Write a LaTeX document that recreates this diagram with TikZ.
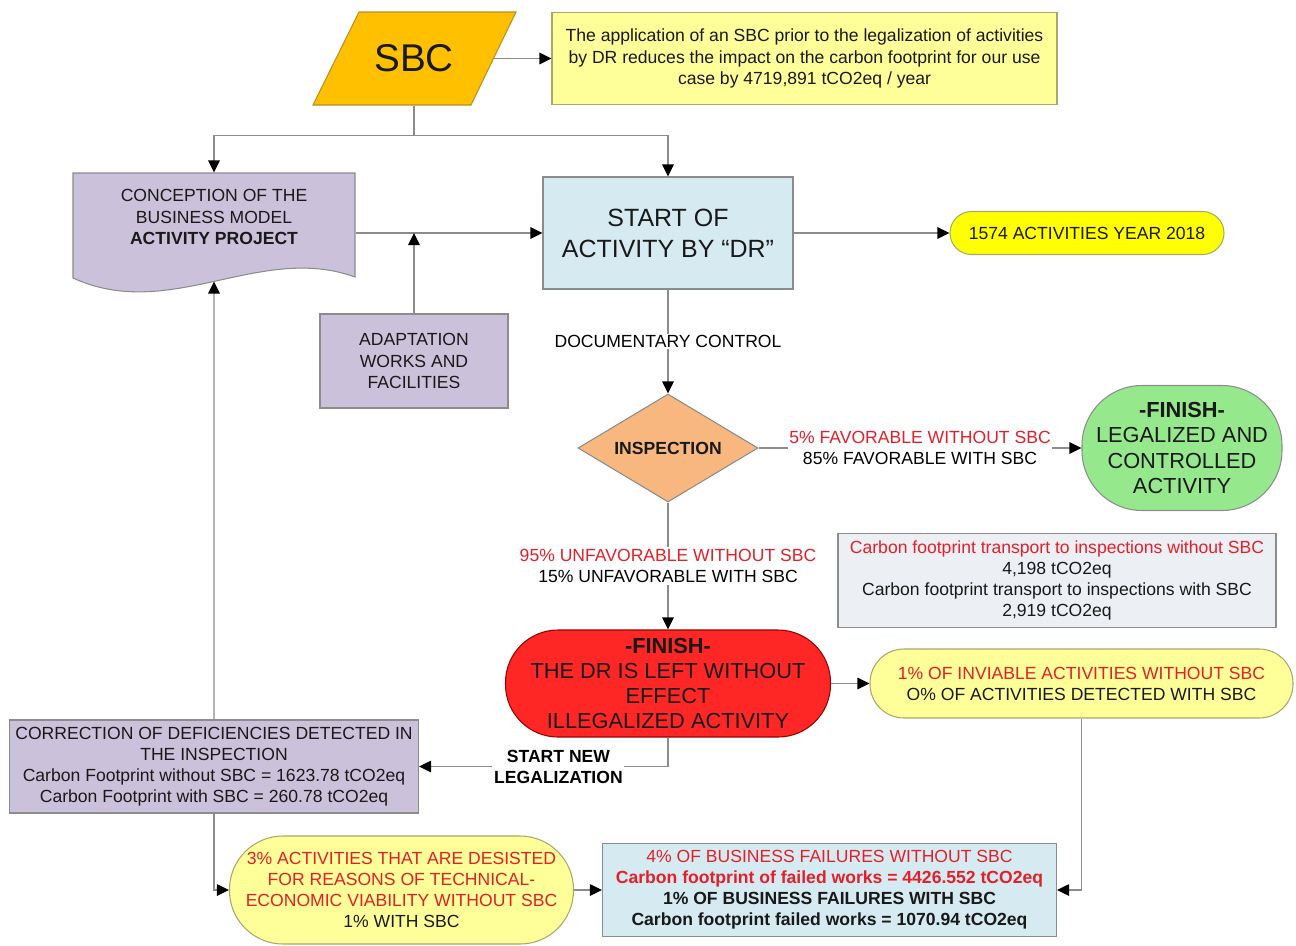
\documentclass[tikz,border=0pt]{standalone}
\usepackage{fontspec}
\setmainfont{Liberation Sans}
\usetikzlibrary{arrows.meta, shapes.geometric}
\definecolor{cSbc}{HTML}{FFC000}
\definecolor{cSbcDark}{HTML}{B8902A}
\definecolor{cNote}{HTML}{FFFF99}
\definecolor{cNoteDark}{HTML}{A8A86A}
\definecolor{cLav}{HTML}{CCC1DA}
\definecolor{cBlue}{HTML}{D6EBF1}
\definecolor{cYel}{HTML}{FFFF00}
\definecolor{cInsp}{HTML}{F8B77E}
\definecolor{cGreen}{HTML}{95E88C}
\definecolor{cGray}{HTML}{ECEFF4}
\definecolor{cRed}{HTML}{FF2626}
\definecolor{cTxtRed}{HTML}{E3202A}
\definecolor{cLine}{HTML}{8C8C8C}
\tikzstyle{fBase} = [text centered, align=center, line width=0.6pt, inner sep=2pt, text=black!90]
\tikzstyle{fProcess} = [rectangle, fBase, draw=cLine, fill=cLav]
\tikzstyle{fStart} = [rectangle, fBase, draw=cLine, fill=cBlue, minimum width=5cm, minimum height=2.24cm, font=\fontsize{14.2}{17.6}\selectfont]
\tikzstyle{fNote} = [rectangle, fBase, draw=cNoteDark, fill=cNote]
\tikzstyle{fData} = [rectangle, fBase, minimum width=3.18cm, minimum height=1.86cm, font=\fontsize{22}{26}\selectfont]
\tikzstyle{fDecision} = [diamond, fBase, aspect=1.67, inner sep=0pt, minimum width=3.6cm, minimum height=2.16cm, draw=cLine, fill=cInsp, font=\bfseries]
\tikzstyle{fTerminal} = [rectangle, fBase, draw=cNoteDark, fill=cNote]
\tikzstyle{fArrow} = [line width=0.6pt, draw=cLine, -{Triangle[length=2.4mm, width=2.3mm, color=black]}]
\tikzstyle{fLine} = [line width=0.6pt, draw=cLine]
\tikzstyle{fLabel} = [fill=white, align=center, inner sep=1pt]

\begin{document}
\begin{tikzpicture}[node distance=2cm]
    \useasboundingbox (0,0) rectangle (25.92,-18.90);
    % shapes without a node style
    \draw [fLine, fill=cLav] (1.46,-3.46) -- (7.10,-3.46) -- (7.10,-5.54) .. controls (5.2,-4.85) and (3.4,-6.45) .. (1.46,-5.56) -- cycle;
    \draw [line width=0.6pt, draw=cSbcDark, fill=cSbc] (6.26,-2.10) -- (7.18,-0.24) -- (10.32,-0.24) -- (9.42,-2.10) -- cycle;

    \node (start) [fStart] at (13.36,-4.66) {START OF\\ACTIVITY BY “DR”};
    \node (sbc) [fData, above of=start, xshift=-5.08cm, yshift=1.49cm] {SBC};
    \node (note) [fNote, right of=sbc, xshift=5.81cm, minimum width=10.1cm, minimum height=1.84cm] {The application of an SBC prior to the legalization of activities\\by DR reduces the impact on the carbon footprint for our use\\case by 4719,891 tCO2eq / year};
    \node (conc) [rectangle, fBase, left of=start, xshift=-7.08cm, yshift=0.32cm, minimum width=5.64cm, minimum height=1.76cm] {CONCEPTION OF THE\\BUSINESS MODEL\\\textbf{ACTIVITY PROJECT}};
    \coordinate (concb) at (4.28,-5.63);
    \node (act) [fTerminal, right of=start, xshift=6.38cm, minimum width=5.48cm, minimum height=0.86cm, rounded corners=0.43cm, fill=cYel] {1574 ACTIVITIES YEAR 2018};
    \node (adapt) [fProcess, below of=sbc, yshift=-4.05cm, minimum width=3.76cm, minimum height=1.88cm] {ADAPTATION\\WORKS AND\\FACILITIES};
    \node (insp) [fDecision, below of=start, yshift=-2.30cm] {INSPECTION};
    \node (green) [fTerminal, right of=insp, xshift=8.28cm, minimum width=4cm, minimum height=2.5cm, rounded corners=1.2cm, fill=cGreen, draw=cLine, font=\fontsize{12.4}{14.4}\selectfont] {\textbf{-FINISH-}\\LEGALIZED AND\\CONTROLLED\\ACTIVITY};
    \node (gray) [rectangle, fBase, below of=green, xshift=-2.50cm, yshift=-0.65cm, minimum width=8.76cm, minimum height=1.88cm, draw=cLine, fill=cGray] {{\color{cTxtRed}Carbon footprint transport to inspections without SBC}\\4,198 tCO2eq\\Carbon footprint transport to inspections with SBC\\2,919 tCO2eq};
    \node (red) [fTerminal, below of=insp, yshift=-2.71cm, minimum width=6.5cm, minimum height=2.14cm, rounded corners=1.05cm, fill=cRed, draw=red!60!black, font=\fontsize{12.4}{14.4}\selectfont] {\textbf{-FINISH-}\\THE DR IS LEFT WITHOUT\\EFFECT\\ILLEGALIZED ACTIVITY};
    \node (inv) [fTerminal, right of=red, xshift=6.27cm, minimum width=8.46cm, minimum height=1.38cm, rounded corners=0.68cm] {{\color{cTxtRed}1\% OF INVIABLE ACTIVITIES WITHOUT SBC}\\O\% OF ACTIVITIES DETECTED WITH SBC};
    \node (corr) [fProcess, below of=conc, yshift=-8.99cm, minimum width=8.18cm, minimum height=1.86cm] {CORRECTION OF DEFICIENCIES DETECTED IN\\THE INSPECTION\\Carbon Footprint without SBC = 1623.78 tCO2eq\\Carbon Footprint with SBC = 260.78 tCO2eq};
    \node (des) [fTerminal, below of=corr, xshift=3.75cm, yshift=-0.47cm, minimum width=6.88cm, minimum height=2.16cm, rounded corners=1.07cm] {{\color{cTxtRed}3\% ACTIVITIES THAT ARE DESISTED}\\{\color{cTxtRed}FOR REASONS OF TECHNICAL-}\\{\color{cTxtRed}ECONOMIC VIABILITY WITHOUT SBC}\\1\% WITH SBC};
    \node (fail) [rectangle, fBase, right of=des, xshift=6.56cm, minimum width=9.08cm, minimum height=1.86cm, draw=cLine, fill=cBlue] {{\color{cTxtRed}4\% OF BUSINESS FAILURES WITHOUT SBC}\\{\color{cTxtRed}\bfseries Carbon footprint of failed works = 4426.552 tCO2eq}\\\textbf{1\% OF BUSINESS FAILURES WITH SBC}\\\textbf{Carbon footprint failed works = 1070.94 tCO2eq}};

    \draw [fArrow] (sbc) -- (note);
    \draw [fLine] (sbc.south) -- ++(0,-0.6) coordinate (split);
    \draw [fArrow] (split) -| (conc.north);
    \draw [fArrow] (split) -| (start.north);
    \draw [fArrow] (conc.east |- start) -- (start);
    \draw [fArrow] (adapt) -- (adapt |- start);
    \draw [fArrow] (start) -- (act);
    \draw [fArrow] (start) -- node[fLabel] {DOCUMENTARY CONTROL} (insp);
    \draw [fArrow] (insp) -- node[fLabel] {{\color{cTxtRed}5\% FAVORABLE WITHOUT SBC}\\85\% FAVORABLE WITH SBC} (green);
    \draw [fArrow] (insp) -- node[fLabel] {{\color{cTxtRed}95\% UNFAVORABLE WITHOUT SBC}\\15\% UNFAVORABLE WITH SBC} (red);
    \draw [fArrow] (red) -- (inv);
    \draw [fArrow] (red) |- node[fLabel, pos=0.72, font=\bfseries] {START NEW\\LEGALIZATION} (corr);
    \draw [fArrow] (corr) -- (concb);
    \draw [fArrow] (corr) |- (des);
    \draw [fArrow] (des) -- (fail);
    \draw [fArrow] (inv) |- (fail);
\end{tikzpicture}
\end{document}
